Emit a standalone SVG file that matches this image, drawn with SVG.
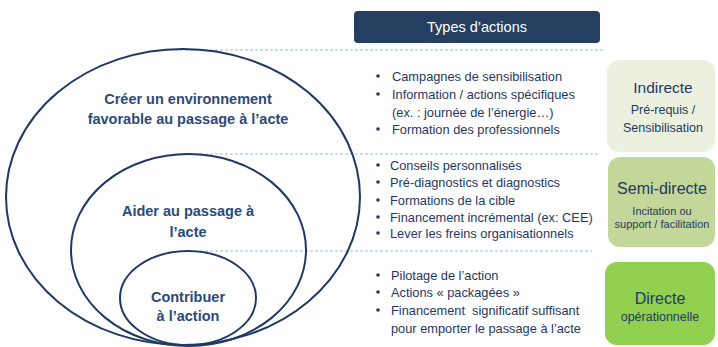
<svg xmlns="http://www.w3.org/2000/svg" width="718" height="347" viewBox="0 0 718 347">
<style>
.ell{fill:none;stroke:#1f3864;stroke-width:2}
.dash{stroke:#9dbbe0;stroke-width:1.2;stroke-dasharray:3 2;fill:none}
.lvl{font-family:"Liberation Sans",Arial,sans-serif;font-weight:bold;font-size:14.5px;fill:#2b4a7a;text-anchor:middle}
.li{font-family:"Liberation Sans",Arial,sans-serif;font-size:12.8px;fill:#1f3864}
.bul{fill:#1f3864}
.bt{font-family:"Liberation Sans",Arial,sans-serif;fill:#1f3864;text-anchor:middle}
</style>
<rect width="718" height="347" fill="#ffffff"/>
<g id="connectors">
<line class="dash" x1="175" y1="50" x2="603" y2="50"/>
<line class="dash" x1="190" y1="154" x2="600" y2="154"/>
<line class="dash" x1="200" y1="251" x2="592" y2="251"/>
</g>
<g id="outer">
<ellipse class="ell" cx="183" cy="197" rx="177" ry="148"/>
<text class="lvl" x="188" y="104">Créer un environnement</text>
<text class="lvl" x="188" y="124">favorable au passage à l’acte</text>
</g>
<g id="middle">
<ellipse class="ell" cx="188.5" cy="250" rx="117.5" ry="96"/>
<text class="lvl" x="188" y="216">Aider au passage à</text>
<text class="lvl" x="188" y="237">l’acte</text>
</g>
<g id="inner">
<ellipse class="ell" cx="188" cy="298" rx="68" ry="47"/>
<text class="lvl" x="188" y="302">Contribuer</text>
<text class="lvl" x="188" y="321">à l’action</text>
</g>
<g id="types">
<rect x="354" y="11" width="246" height="32" rx="4" fill="#243f60"/>
<text x="477" y="32" font-family="Liberation Sans,Arial,sans-serif" font-size="14.5" fill="#ffffff" text-anchor="middle">Types d’actions</text>
</g>
<g id="list1">
<circle class="bul" cx="378" cy="76" r="1.8"/>
<text class="li" x="392" y="80.5">Campagnes de sensibilisation</text>
<circle class="bul" cx="378" cy="94" r="1.8"/>
<text class="li" x="392" y="98.5">Information / actions spécifiques</text>
<text class="li" x="392" y="116.5">(ex. : journée de l’énergie…)</text>
<circle class="bul" cx="378" cy="129" r="1.8"/>
<text class="li" x="392" y="133.5">Formation des professionnels</text>
</g>
<g id="list2">
<circle class="bul" cx="378" cy="165" r="1.8"/>
<text class="li" x="390" y="169.5">Conseils personnalisés</text>
<circle class="bul" cx="378" cy="182" r="1.8"/>
<text class="li" x="390" y="186.5">Pré-diagnostics et diagnostics</text>
<circle class="bul" cx="378" cy="200" r="1.8"/>
<text class="li" x="390" y="204.5">Formations de la cible</text>
<circle class="bul" cx="378" cy="217" r="1.8"/>
<text class="li" x="390" y="221.5">Financement incrémental (ex: CEE)</text>
<circle class="bul" cx="378" cy="233" r="1.8"/>
<text class="li" x="390" y="237.5">Lever les freins organisationnels</text>
</g>
<g id="list3">
<circle class="bul" cx="378" cy="275" r="1.8"/>
<text class="li" x="391" y="279.5">Pilotage de l’action</text>
<circle class="bul" cx="378" cy="292" r="1.8"/>
<text class="li" x="391" y="296.5">Actions « packagées »</text>
<circle class="bul" cx="378" cy="310" r="1.8"/>
<text class="li" x="391" y="314.5" xml:space="preserve">Financement  significatif suffisant</text>
<text class="li" x="391" y="332.5">pour emporter le passage à l’acte</text>
</g>
<g id="indirecte">
<rect x="607" y="60" width="108" height="92" rx="12" fill="#ebf1de"/>
<text class="bt" x="663" y="93" font-size="15.5">Indirecte</text>
<text class="bt" x="663" y="114" font-size="12.5">Pré-requis /</text>
<text class="bt" x="663" y="132" font-size="12.5">Sensibilisation</text>
</g>
<g id="semidirecte">
<rect x="608" y="157" width="107" height="90" rx="12" fill="#c4d79b"/>
<text class="bt" x="662" y="194" font-size="16">Semi-directe</text>
<text class="bt" x="662" y="215" font-size="11">Incitation ou</text>
<text class="bt" x="662" y="228" font-size="11">support / facilitation</text>
</g>
<g id="directe">
<rect x="605" y="262" width="110" height="83" rx="12" fill="#92d050"/>
<text class="bt" x="660" y="304" font-size="16">Directe</text>
<text class="bt" x="660" y="321" font-size="12.5">opérationnelle</text>
</g>
</svg>
